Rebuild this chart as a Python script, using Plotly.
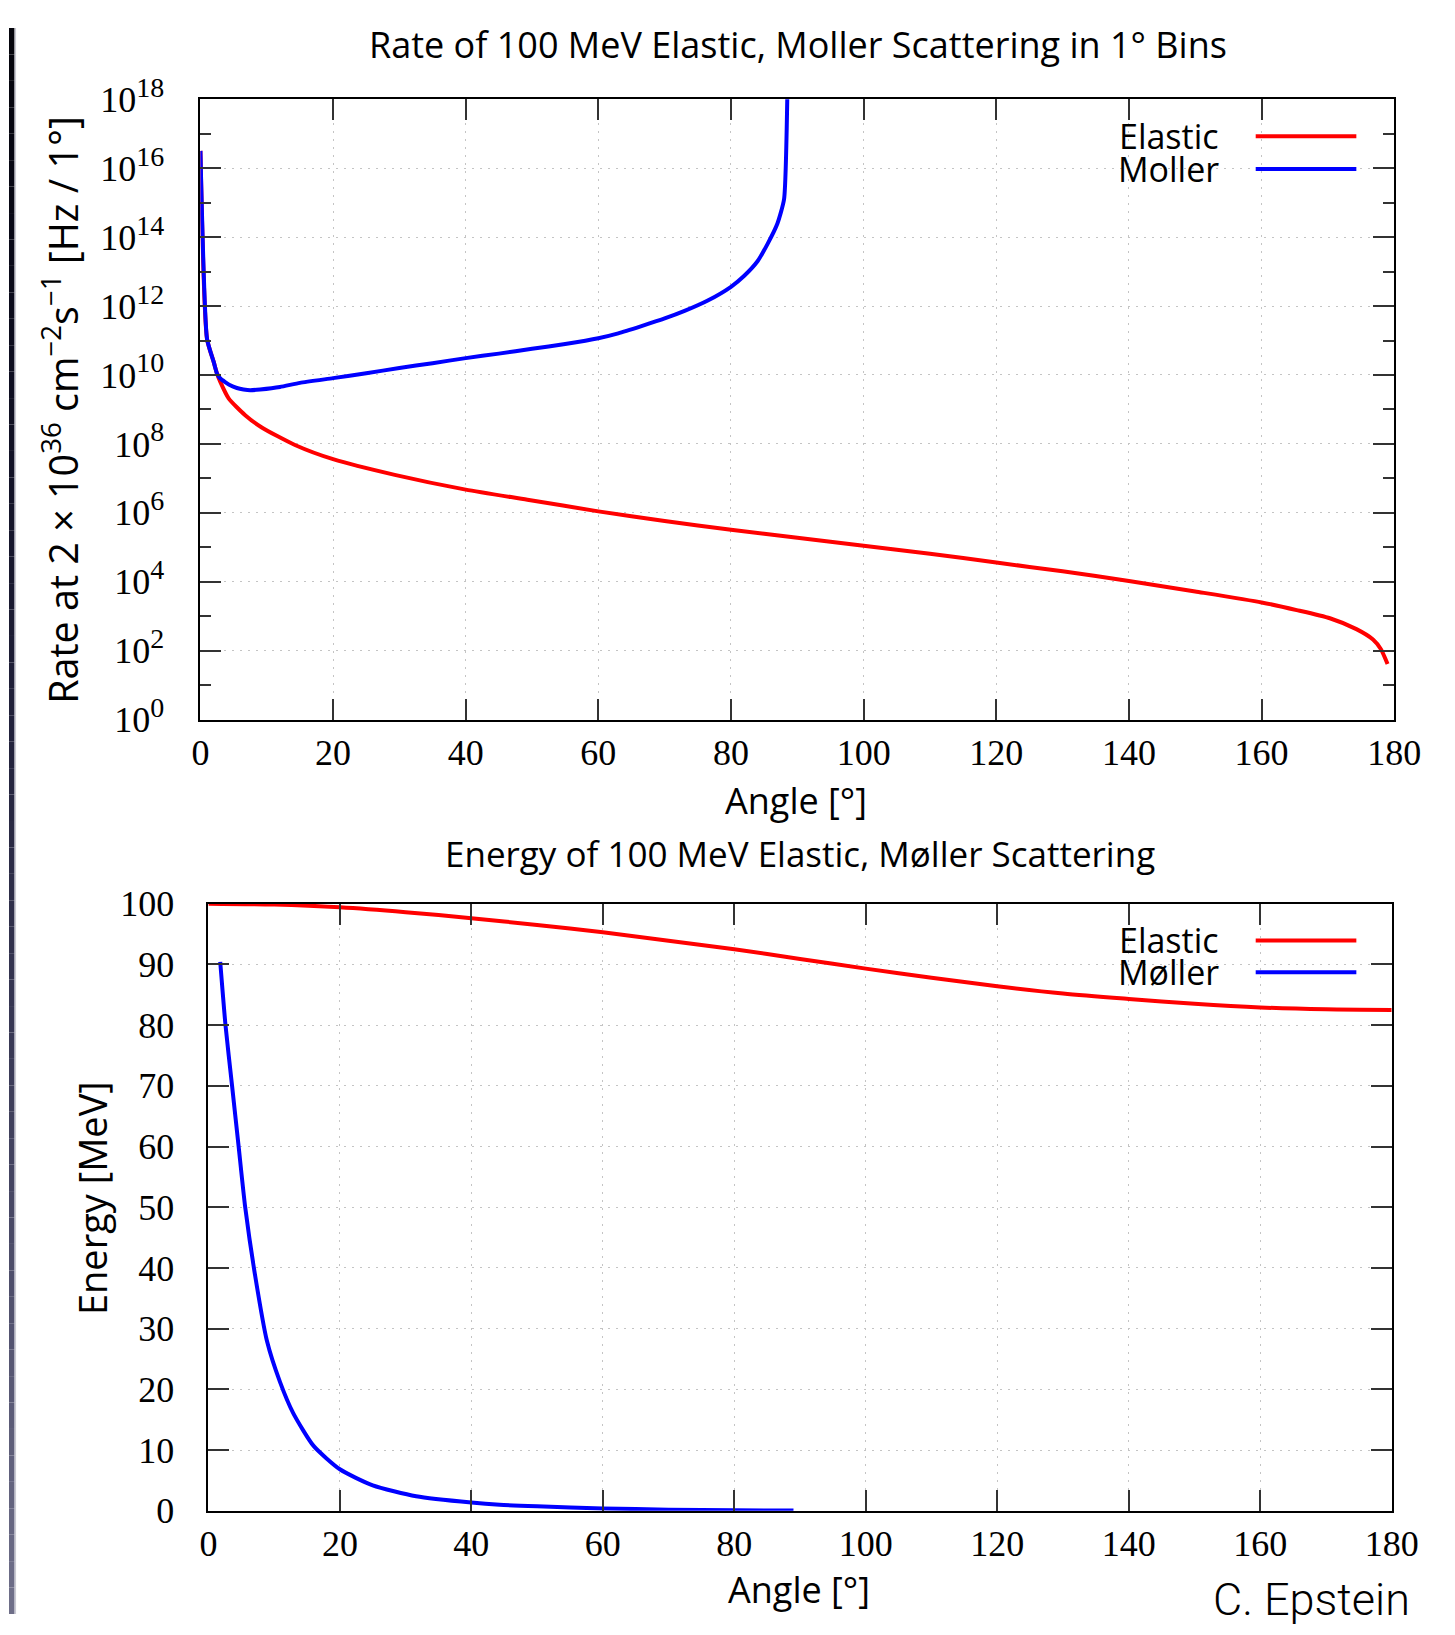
import plotly.graph_objects as go

W, H = 1455, 1635

# Measured placement of the page in the photographed picture:
# picture = offset + scale * page.  Positions below are given in picture pixels and
# converted back to page pixels so that they land where the reference has them.
SX, OXP = 0.9787, 7.9
SY, OYP = 0.9745, 24.3

# ---------------- data ----------------
# Top panel: rate in 1 degree bins [Hz / 1 deg]
elastic_rate_angle = [0, 1, 2, 2.5, 3, 4.25, 6.75, 9.25, 14.25, 20, 29.3, 40, 49.3, 60,
                      70, 80, 90, 100, 110, 120, 130, 140, 150, 160, 165.3, 170.3, 174.3,
                      176.8, 178, 179]
elastic_rate = [3.2e16, 1.1e11, 2.4e10, 1.1e10, 6.3e9, 2.1e9, 6.8e8, 3.0e8, 9.3e7,
                3.6e7, 1.26e7, 4.7e6, 2.4e6, 1.1e6, 5.8e5, 3.2e5, 1.9e5, 1.1e5, 6.5e4,
                3.6e4, 2.0e4, 1.05e4, 5.2e3, 2.5e3, 1.5e3, 870, 420, 210, 110, 41]

moller_rate_angle = [0, 1, 2, 2.5, 3, 4.5, 5.5, 6.5, 7.5, 9, 12, 15, 20, 25, 30, 35, 40,
                     45, 50, 55, 60, 63, 66.5, 70, 73, 76.5, 80, 82, 84, 85.5, 87, 88,
                     88.6]
moller_rate = [3.2e16, 1.1e11, 2.4e10, 1.1e10, 7.9e9, 5.0e9, 4.2e9, 3.8e9, 3.6e9, 3.8e9,
               4.5e9, 5.9e9, 8.1e9, 1.12e10, 1.6e10, 2.2e10, 3.09e10, 4.17e10, 5.75e10,
               7.94e10, 1.17e11, 1.62e11, 2.63e11, 4.37e11, 7.24e11, 1.45e12, 3.63e12,
               7.59e12, 2.0e13, 6.3e13, 2.5e14, 1.26e15, 3.0e19]

# Bottom panel: scattered energy [MeV]
elastic_energy_angle = [0, 10, 20, 30, 40, 50, 60, 70, 80, 90, 100, 110, 120, 130, 140,
                        150, 160, 170, 180]
elastic_energy = [100, 99.85, 99.4, 98.6, 97.6, 96.5, 95.3, 93.9, 92.5, 90.9, 89.3, 87.8,
                  86.4, 85.2, 84.3, 83.5, 82.9, 82.6, 82.5]

moller_energy_angle = [1.8, 2.6, 3.6, 4.6, 5.6, 7.1, 8.9, 10.9, 12.9, 16, 20, 25, 31.6, 40,
                       44.3, 50, 60, 70, 80, 89]
moller_energy = [90.4, 80, 70, 60, 50, 38.8, 28, 21.2, 16.1, 10.7, 6.85, 4.2, 2.4, 1.36,
                 1.0, 0.75, 0.4, 0.2, 0.1, 0.05]

# Tick definitions
x_ticks = [0, 20, 40, 60, 80, 100, 120, 140, 160, 180]
rate_tick_exponents = [0, 2, 4, 6, 8, 10, 12, 14, 16, 18]
rate_minor_exponents = [1, 3, 5, 7, 9, 11, 13, 15, 17]
energy_ticks = [0, 10, 20, 30, 40, 50, 60, 70, 80, 90, 100]

series_names = ["Elastic", "Moller"]
series_names_bottom = ["Elastic", "Møller"]
colors = ["#ff0000", "#0000ff"]

# ---------------- helpers (picture pixels -> paper fraction) ----------------
def px(x):
    return ((x - OXP) / SX) / W


def py(y):
    return 1 - ((y - OYP) / SY) / H


SANS = "Open Sans"
SERIF = "Liberation Serif"

fig = go.Figure()

fig.add_trace(go.Scatter(x=elastic_rate_angle, y=elastic_rate, mode="lines",
                         line=dict(color=colors[0], width=4, shape="spline", smoothing=0.6),
                         xaxis="x", yaxis="y", name=series_names[0], showlegend=False))
fig.add_trace(go.Scatter(x=moller_rate_angle, y=moller_rate, mode="lines",
                         line=dict(color=colors[1], width=4, shape="spline", smoothing=0.5),
                         xaxis="x", yaxis="y", name=series_names[1], showlegend=False))
fig.add_trace(go.Scatter(x=elastic_energy_angle, y=elastic_energy, mode="lines",
                         line=dict(color=colors[0], width=4, shape="spline", smoothing=0.8),
                         xaxis="x2", yaxis="y2", name=series_names_bottom[0],
                         showlegend=False, cliponaxis=False))
fig.add_trace(go.Scatter(x=moller_energy_angle, y=moller_energy, mode="lines",
                         line=dict(color=colors[1], width=4, shape="spline", smoothing=0.6),
                         xaxis="x2", yaxis="y2", name=series_names_bottom[1],
                         showlegend=False))

axis_common = dict(
    showline=True, linewidth=2, linecolor="black", mirror="allticks",
    ticks="inside", ticklen=21, tickwidth=1.5, tickcolor="#333333",
    showgrid=True, gridcolor="#c4c4c4", griddash="2px,6px", gridwidth=1,
    zeroline=False, tickfont=dict(family=SERIF, size=36, color="black"),
    layer="above traces",
)

fig.update_layout(
    width=W, height=H,
    margin=dict(l=0, r=0, t=0, b=0),
    paper_bgcolor="white", plot_bgcolor="white",
    xaxis=dict(domain=[px(200), px(1398)], range=[0, 180], anchor="y",
               tickmode="array", tickvals=x_ticks, ticklabelstandoff=0, **axis_common),
    yaxis=dict(domain=[py(719), py(96)], type="log", range=[0, 18], anchor="x",
               tickmode="array",
               tickvals=[10 ** k for k in rate_tick_exponents],
               ticktext=[f"10<sup><span style='font-size:28px'>{k}</span></sup>"
                         for k in rate_tick_exponents],
               minor=dict(tickmode="array", tickvals=[10 ** k for k in rate_minor_exponents],
                          ticks="inside", ticklen=11, tickwidth=1.5, tickcolor="#333333",
                          showgrid=False),
               ticklabelstandoff=27, **axis_common),
    xaxis2=dict(domain=[px(208), px(1395.5)], range=[0, 180], anchor="y2",
                tickmode="array", tickvals=x_ticks, ticklabelstandoff=0, **axis_common),
    yaxis2=dict(domain=[py(1514), py(904)], range=[0, 100], anchor="x2",
                tickmode="array", tickvals=energy_ticks, ticklabelstandoff=25,
                **axis_common),
)

annotations = []


def add_text(text, x, y, size, family=SANS, angle=0, xanchor="center", weight=None):
    f = dict(family=family, size=size, color="black")
    if weight is not None:
        f["weight"] = weight
    annotations.append(dict(text=text, x=px(x), y=py(y), xref="paper", yref="paper",
                            showarrow=False, xanchor=xanchor, yanchor="middle",
                            textangle=angle, font=f))


add_text("Rate of 100 MeV Elastic, Moller Scattering in 1° Bins", 800, 41, 36)
add_text("Angle [°]", 798, 800, 36)
add_text("Rate at 2 × 10<sup>36</sup> cm<sup>−2</sup>s<sup>−1</sup> [Hz / 1°]", 60, 408,
         39.5, angle=-90)
add_text("Energy of 100 MeV Elastic, Møller Scattering", 802, 854, 35)
add_text("Angle [°]", 801, 1593, 36)
add_text("Energy [MeV]", 92, 1200, 38, angle=-90)
add_text("C. Epstein", 1315, 1603, 45, family="Roboto", weight=300)

shapes = []

# legend key boxes (hide gridlines behind the key)
for (x0, y0, x1, y1) in [(1097, 97, 1396, 187), (1104, 905, 1394, 990)]:
    shapes.append(dict(type="rect", xref="paper", yref="paper", x0=px(x0), x1=px(x1),
                       y0=py(y1), y1=py(y0), fillcolor="white", line=dict(width=0),
                       layer="between"))

# legend entries: text left, sample line right (gnuplot style)
for names, ys in [(series_names, [133, 166]), (series_names_bottom, [941, 973])]:
    for name, yy, col in zip(names, ys, colors):
        add_text(name, 1224, yy, 34, xanchor="right")
        shapes.append(dict(type="line", xref="paper", yref="paper", x0=px(1259),
                           x1=px(1360), y0=py(yy), y1=py(yy),
                           line=dict(color=col, width=4), layer="above"))

# dark slide border on the left (gradient band)
n = 60
for i in range(n):
    t0, t1 = i / n, (i + 1) / n
    tm = (t0 + t1) / 2
    r = int(5 + (112 - 5) * tm ** 1.6)
    b = int(12 + (138 - 12) * tm ** 1.2)
    shapes.append(dict(type="rect", xref="paper", yref="paper", x0=0, x1=px(13.5),
                       y0=1 - t1, y1=1 - t0, fillcolor=f"rgb({r},{r},{b})",
                       line=dict(width=0), layer="above"))
shapes.append(dict(type="rect", xref="paper", yref="paper", x0=px(13.5), x1=px(15),
                   y0=0, y1=1, fillcolor="#c9c9d2", line=dict(width=0), layer="above"))

fig.update_layout(annotations=annotations, shapes=shapes)

post = ("var d=document.getElementById('{plot_id}');"
        "d.style.position='fixed';d.style.left='0px';d.style.top='0px';"
        "document.documentElement.style.margin='0';document.body.style.margin='0';"
        "document.documentElement.style.overflow='hidden';"
        "document.body.style.overflow='hidden';")

fig.write_html("out.html", config={"displayModeBar": False}, post_script=post)
